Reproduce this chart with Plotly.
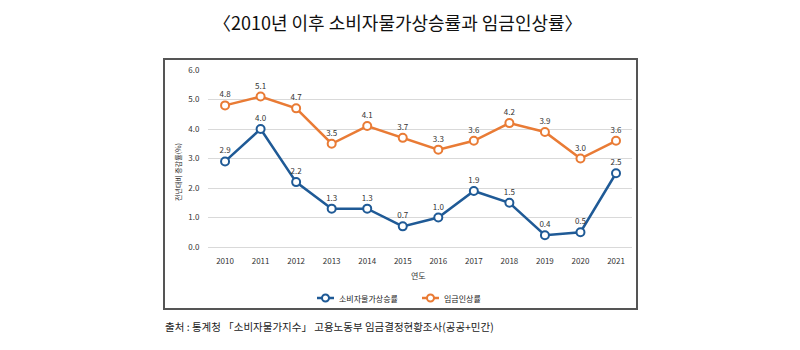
import plotly.graph_objects as go

years = [2010, 2011, 2012, 2013, 2014, 2015, 2016, 2017, 2018, 2019, 2020, 2021]
cpi = [2.9, 4.0, 2.2, 1.3, 1.3, 0.7, 1.0, 1.9, 1.5, 0.4, 0.5, 2.5]
wage = [4.8, 5.1, 4.7, 3.5, 4.1, 3.7, 3.3, 3.6, 4.2, 3.9, 3.0, 3.6]
cpi_name = "소비자물가상승률"
wage_name = "임금인상률"
yticks = [0, 1, 2, 3, 4, 5, 6]

FONT = "Noto Sans CJK KR"
BLUE = "#1f5a96"
ORANGE = "#e97b35"

fig = go.Figure()
for name, vals, col in [(cpi_name, cpi, BLUE), (wage_name, wage, ORANGE)]:
    fig.add_trace(go.Scatter(
        x=years, y=vals, name=name, mode="lines+markers+text",
        text=[f"{v:.1f}" for v in vals], textposition="top center",
        textfont=dict(size=8, color="#333", family=FONT),
        line=dict(color=col, width=2.5),
        marker=dict(symbol="circle", size=8, color="white", line=dict(color=col, width=2)),
        cliponaxis=False, showlegend=False,
    ))

L, R, T, B = 208, 632, 70, 247
W, H = 800, 350
pw, ph = R - L, B - T

def px(x):
    return (x - L) / pw

def py(y):
    return (B - y) / ph

fig.update_layout(
    width=W, height=H,
    margin=dict(l=L, r=W - R, t=T, b=H - B),
    paper_bgcolor="white", plot_bgcolor="white",
    font=dict(family=FONT, color="#333"),
    showlegend=False,
    xaxis=dict(range=[2009.52, 2021.45], tickvals=years, ticktext=[str(y) for y in years],
               showgrid=False, zeroline=False, showline=False,
               ticks="outside", ticklen=6, tickcolor="rgba(0,0,0,0)",
               tickfont=dict(size=8, family=FONT, color="#333"), fixedrange=True),
    yaxis=dict(range=[0, 6], tickvals=yticks, ticktext=[f"{v:.1f}" for v in yticks],
               showgrid=True, gridcolor="#d9d9d9", gridwidth=1,
               zeroline=True, zerolinecolor="#d9d9d9", zerolinewidth=1, showline=False,
               ticks="outside", ticklen=6, tickcolor="rgba(0,0,0,0)",
               tickfont=dict(size=8, family=FONT, color="#333"), fixedrange=True),
)

fig.add_shape(type="rect", xref="paper", yref="paper",
              x0=px(164), x1=px(637), y0=py(309), y1=py(59),
              line=dict(color="#555", width=2), fillcolor="rgba(0,0,0,0)", layer="below")

# legend (manual, to match the compact reference symbols)
for lx, name, col in [(317, cpi_name, BLUE), (422, wage_name, ORANGE)]:
    fig.add_shape(type="line", xref="paper", yref="paper",
                  x0=px(lx), x1=px(lx + 17), y0=py(298), y1=py(298),
                  line=dict(color=col, width=2.5))
    fig.add_shape(type="circle", xref="paper", yref="paper",
                  x0=px(lx + 5), x1=px(lx + 12), y0=py(301.5), y1=py(294.5),
                  line=dict(color=col, width=2), fillcolor="white")
    fig.add_annotation(text=name, xref="paper", yref="paper",
                       x=px(lx + 20), y=py(298), xanchor="left", yanchor="middle", showarrow=False,
                       font=dict(size=8, family=FONT, color="#222"))

fig.add_annotation(text="〈2010년 이후 소비자물가상승률과 임금인상률〉", xref="paper", yref="paper",
                   x=px(398), y=py(22), xanchor="center", yanchor="middle", showarrow=False,
                   font=dict(size=18, family=FONT, color="#111"))
fig.add_annotation(text="전년대비 증감률(%)", xref="paper", yref="paper",
                   x=px(178), y=py(172), xanchor="center", yanchor="middle", showarrow=False,
                   textangle=-90, font=dict(size=7, family=FONT, color="#222"))
fig.add_annotation(text="연도", xref="paper", yref="paper",
                   x=px(418), y=py(275), xanchor="center", yanchor="middle", showarrow=False,
                   font=dict(size=8, family=FONT, color="#333"))
fig.add_annotation(text="출처 : 통계청 「소비자물가지수」 고용노동부 임금결정현황조사(공공+민간)",
                   xref="paper", yref="paper", x=px(163), y=py(326), xanchor="left", yanchor="middle",
                   showarrow=False, font=dict(size=10.5, family=FONT, color="#222"))

fig.write_html("out.html", config=dict(displayModeBar=False))
